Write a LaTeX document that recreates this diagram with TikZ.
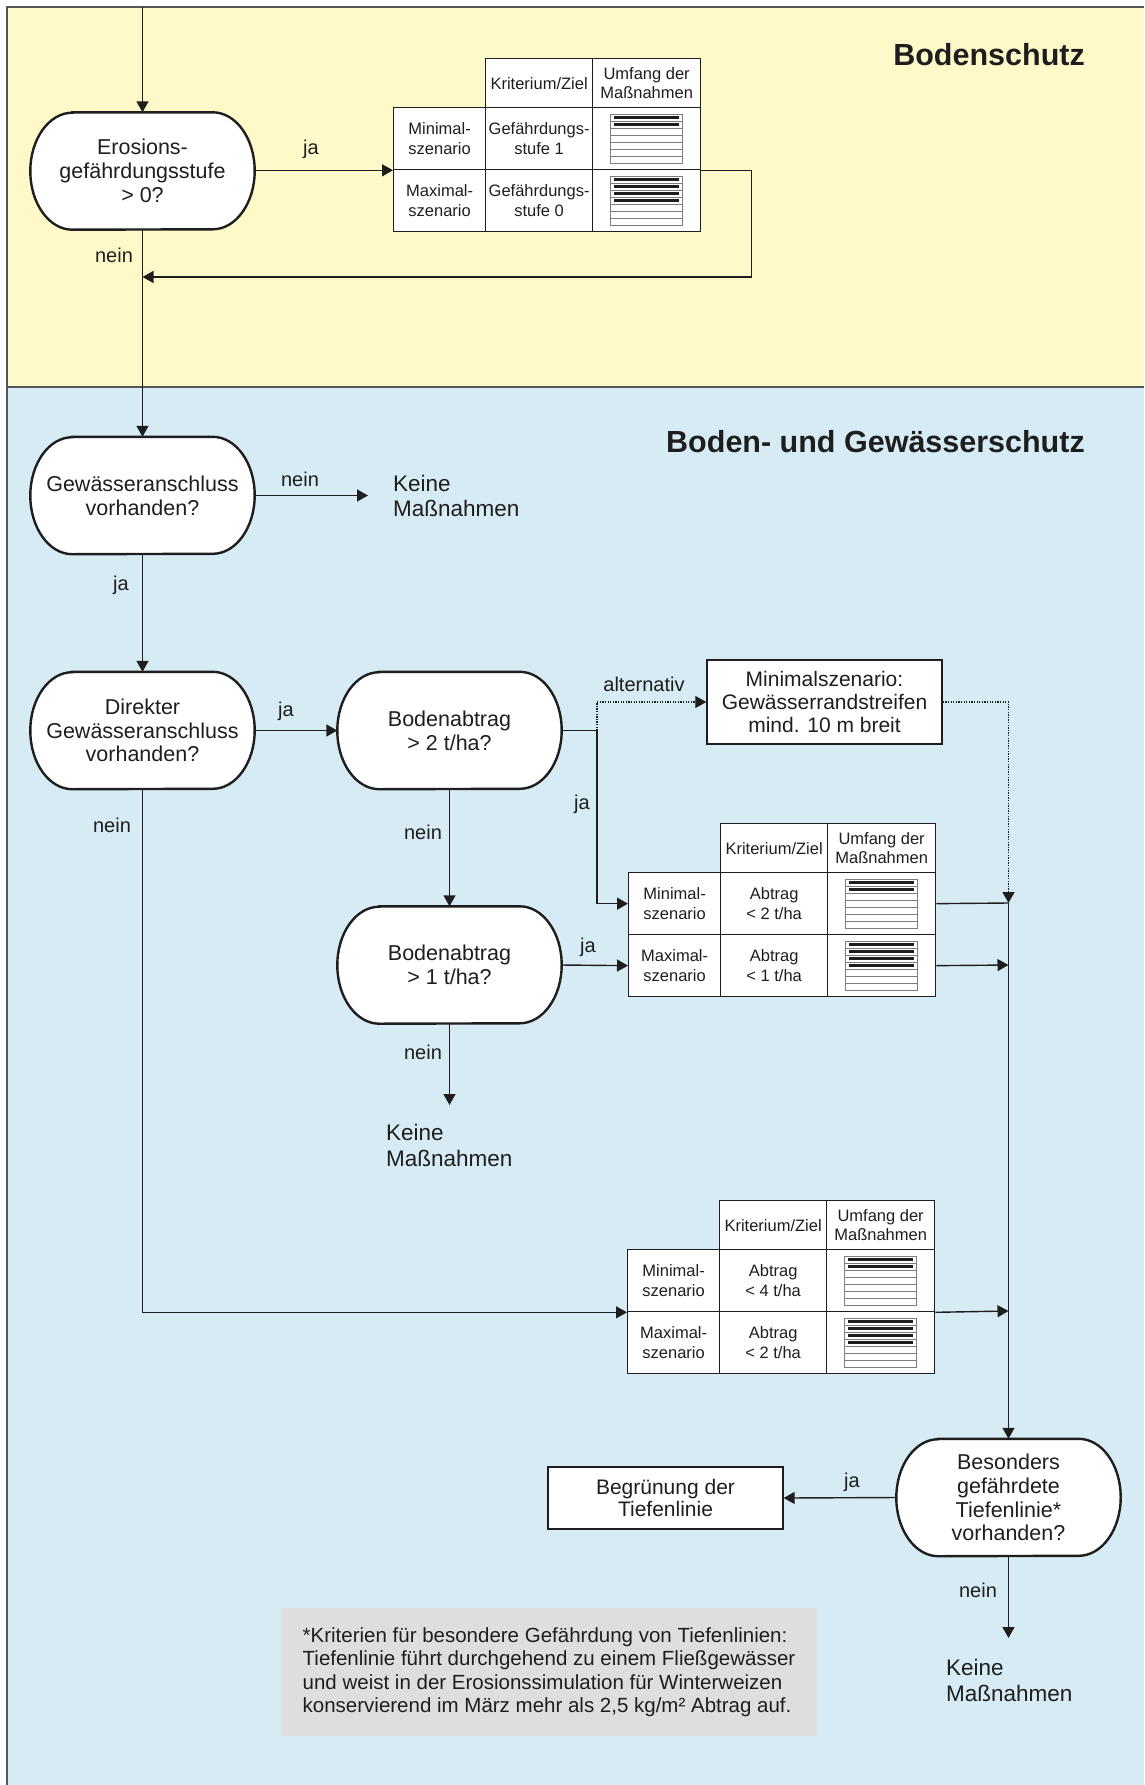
\documentclass[tikz,border=0pt]{standalone}
\usepackage{fontspec}
\setmainfont{Liberation Sans}
\usetikzlibrary{arrows.meta,calc}
\pgfdeclarelayer{bands}
\pgfdeclarelayer{shapes}
\pgfsetlayers{bands,shapes,main}

\definecolor{ink}{RGB}{30,30,30}
\definecolor{bandyellow}{RGB}{255,249,201}
\definecolor{bandblue}{RGB}{214,235,243}
\definecolor{framegray}{RGB}{85,85,85}
\definecolor{notegray}{RGB}{222,222,222}
\definecolor{stripegray}{RGB}{125,125,125}

\tikzset{
  decision/.style={minimum width=224pt, minimum height=117pt, inner sep=0pt,
    align=center, font=\fontsize{21.5}{23.7}\selectfont, text=ink},
  outline/.style={draw=ink, line width=2.4pt, fill=white},
  tip/.style={-{Triangle[length=11pt,width=12pt]}},
  flow/.style={draw=ink, line width=1.4pt, tip},
  plain/.style={draw=ink, line width=1.4pt},
  dots/.style={draw=ink, line width=1.2pt, dash pattern=on 1.3pt off 1.3pt},
  lbl/.style={font=\fontsize{20}{24}\selectfont, text=ink, inner sep=0pt},
  endtext/.style={font=\fontsize{22.5}{25.5}\selectfont, text=ink, inner sep=0pt, align=left},
  infobox/.style={draw=ink, line width=1.4pt, fill=white, inner sep=0pt, align=center,
    font=\fontsize{21}{22.8}\selectfont, text=ink},
  cell/.style={draw=ink, line width=1.3pt, fill=white, inner sep=0pt, align=center,
    font=\fontsize{16.5}{19.5}\selectfont, text=ink, anchor=north west},
  heading/.style={font=\fontsize{30.5}{36}\selectfont\bfseries, text=ink, inner sep=0pt, anchor=east},
  note/.style={fill=notegray, minimum width=536pt, minimum height=128pt, inner sep=0pt,
    align=left, font=\fontsize{20.5}{23.5}\selectfont, text=ink}
}

% stadium-like outline with elliptical ends around a decision node
\newcommand{\decisionshape}[1]{%
  \begin{pgfonlayer}{shapes}
  \path[outline] ([xshift=42pt]#1.north west) -- ([xshift=-42pt]#1.north east)
    arc[start angle=90,end angle=-90,x radius=42pt,y radius=58.5pt]
    -- ([xshift=42pt]#1.south west)
    arc[start angle=270,end angle=90,x radius=42pt,y radius=58.5pt] -- cycle;
  \end{pgfonlayer}}

% bar icon: seven stripes, the first #2 of them marked with a heavy bar
\newcommand{\barsicon}[2]{%
  \begin{scope}[shift={(#1.center)}]
    \foreach \k in {0,...,6} {
      \draw[draw=stripegray, line width=0.8pt, fill=white]
        (-36pt,{24.5pt-7pt*\k}) rectangle (36pt,{17.5pt-7pt*\k});}
    \foreach \k in {1,...,#2} {
      \draw[draw=ink, line width=2.8pt]
        (-32.5pt,{21pt-7pt*(\k-1)}) -- (32.5pt,{21pt-7pt*(\k-1)});}
  \end{scope}}

% scenario table: #1 name prefix, #2/#3 left edge and header top, #4/#5 criteria
\newcommand{\scentable}[5]{%
  \node[cell, minimum width=107pt, minimum height=49pt] (#1-h2) at (#2+92,#3) {Kriterium/Ziel};
  \node[cell, minimum width=108pt, minimum height=49pt] (#1-h3) at (#2+199,#3) {Umfang der\\Maßnahmen};
  \node[cell, minimum width=92pt, minimum height=62pt] (#1-r1c1) at (#2,#3+49) {Minimal-\\szenario};
  \node[cell, minimum width=107pt, minimum height=62pt] (#1-r1c2) at (#2+92,#3+49) {#4};
  \node[cell, minimum width=108pt, minimum height=62pt] (#1-r1c3) at (#2+199,#3+49) {};
  \node[cell, minimum width=92pt, minimum height=62pt] (#1-r2c1) at (#2,#3+111) {Maximal-\\szenario};
  \node[cell, minimum width=107pt, minimum height=62pt] (#1-r2c2) at (#2+92,#3+111) {#5};
  \node[cell, minimum width=108pt, minimum height=62pt] (#1-r2c3) at (#2+199,#3+111) {};
  \barsicon{#1-r1c3}{2}
  \barsicon{#1-r2c3}{4}}

\begin{document}
\begin{tikzpicture}[x=1pt, y=-1pt]
\useasboundingbox (0,0) rectangle (1144,1785);

% background bands and frame
\begin{pgfonlayer}{bands}
  \fill[white] (0,0) rectangle (1144,1785);
  \fill[bandyellow] (7,7) rectangle (1144,387);
  \fill[bandblue] (7,387) rectangle (1144,1785);
  \draw[framegray, line width=2.2pt] (1144,7) -- (7,7) -- (7,1785);
  \draw[framegray, line width=2.2pt] (7,387) -- (1144,387);
\end{pgfonlayer}

\node[heading] (ttl1) at (1085,55) {Bodenschutz};
\node[heading] (ttl2) at (1085,442) {Boden- und Gewässerschutz};

% decisions
\node[decision] (t1) at (142.5,171) {Erosions-\\gefährdungsstufe\\> 0?};
\node[decision] (t2) at (142.5,495.5) {Gewässeranschluss\\vorhanden?};
\node[decision] (t3) at (142.5,730.5) {Direkter\\Gewässeranschluss\\vorhanden?};
\node[decision] (b1) at (449.5,730.5) {Bodenabtrag\\> 2 t/ha?};
\node[decision] (b2) at (449.5,965) {Bodenabtrag\\> 1 t/ha?};
\node[decision] (t4) at (1008.5,1497.5) {Besonders\\gefährdete\\Tiefenlinie*\\vorhanden?};
\decisionshape{t1}
\decisionshape{t2}
\decisionshape{t3}
\decisionshape{b1}
\decisionshape{b2}
\decisionshape{t4}

% tables
\scentable{tA}{393}{58}{Gefährdungs-\\stufe 1}{Gefährdungs-\\stufe 0}
\scentable{tB}{628}{823}{Abtrag\\< 2 t/ha}{Abtrag\\< 1 t/ha}
\scentable{tC}{627}{1200}{Abtrag\\< 4 t/ha}{Abtrag\\< 2 t/ha}

% boxes and end texts
\node[infobox, minimum width=235pt, minimum height=84pt] (mz) at (824.5,702) {Minimalszenario:\\Gewässerrandstreifen\\mind. 10 m breit};
\node[infobox, minimum width=235pt, minimum height=62pt] (bg) at (665.5,1498) {Begrünung der\\Tiefenlinie};
\node[endtext, anchor=west] (km1) at (393,496) {Keine\\Maßnahmen};
\node[endtext, anchor=west] (km2) at (386,1145.5) {Keine\\Maßnahmen};
\node[endtext, anchor=west] (km3) at (946,1680.5) {Keine\\Maßnahmen};
\node[note] (fn) at (549,1672) {*Kriterien für besondere Gefährdung von Tiefenlinien:\\Tiefenlinie führt durchgehend zu einem Fließgewässer\\und weist in der Erosionssimulation für Winterweizen\\konservierend im März mehr als 2,5 kg/m² Abtrag auf.};

% connector end points
\coordinate (entry) at (142.5,7);
\coordinate (back) at (142.5,277);
\coordinate (km1-in) at (368,495.5);
\coordinate (split) at (597,730.5);
\coordinate (join1) at (1008.5,903);
\coordinate (join2) at (1008.5,965);
\coordinate (join3) at (1008.5,1311);
\coordinate (km2-in) at (449.5,1105);
\coordinate (km3-in) at (1008.5,1638);

% connectors
\draw[flow] (entry) -- (t1.north);
\draw[flow] (t1.east |- tA-r1c1.south west) -- (tA-r1c1.south west);
\draw[flow] (tA-r1c3.south east) -- ++(50,0) |- (back);
\draw[flow] (t1.south) -- (t2.north);
\draw[flow] (t2.east) -- (km1-in);
\draw[flow] (t2.south) -- (t3.north);
\draw[flow] (t3.east) -- (b1.west);
\draw[plain] (b1.east) -- (split);
\draw[flow] (split) |- (tB-r1c1.west);
\draw[dots, tip] (split) |- (mz.west);
\draw[dots, tip] (mz.east) -| (join1);
\draw[plain] (tB-r1c3.east) -- (join1);
\draw[flow] (tB-r2c3.east) -- (join2);
\draw[flow] (join1) -- (t4.north);
\draw[flow] (b1.south) -- (b2.north);
\draw[flow] (b2.east) -- (tB-r2c1.west);
\draw[flow] (b2.south) -- (km2-in);
\draw[flow] (t3.south) |- (tC-r1c1.south west);
\draw[flow] (tC-r1c3.south east) -- (join3);
\draw[flow] (t4.west) -- (bg.east);
\draw[flow] (t4.south) -- (km3-in);

% branch labels
\node[lbl] (l1) at (311,149) {ja};
\node[lbl] (l2) at (114,255) {nein};
\node[lbl] (l3) at (300,479) {nein};
\node[lbl] (l4) at (121,585) {ja};
\node[lbl] (l5) at (286,711) {ja};
\node[lbl] (l6) at (644,684) {alternativ};
\node[lbl] (l7) at (582,804) {ja};
\node[lbl] (l8) at (423,832) {nein};
\node[lbl] (l9) at (588,947) {ja};
\node[lbl] (l10) at (423,1052) {nein};
\node[lbl] (l11) at (112,825) {nein};
\node[lbl] (l12) at (852,1482) {ja};
\node[lbl] (l13) at (978,1590) {nein};
\end{tikzpicture}
\end{document}
